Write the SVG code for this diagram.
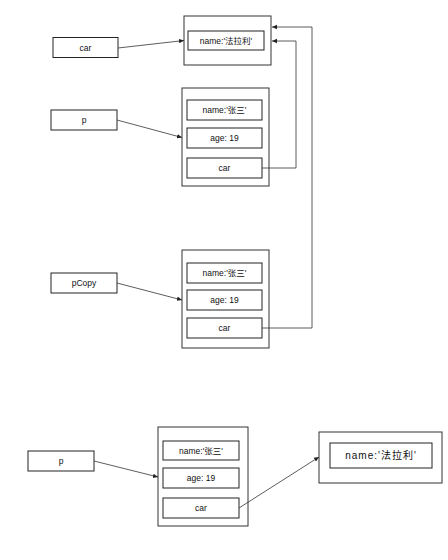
<svg xmlns="http://www.w3.org/2000/svg" width="448" height="560" viewBox="0 0 448 560">
<style>
.b{fill:#fff;stroke:#222;stroke-width:1}
.o{fill:#fff;stroke:#333;stroke-width:1}
.t{font-family:"Liberation Sans","Noto Sans CJK SC",sans-serif;font-size:8.5px;fill:#111;text-anchor:middle;dominant-baseline:central}
.c{fill:none;stroke:#333;stroke-width:0.8}
</style>
<defs>
<marker id="a" markerWidth="6" markerHeight="6" refX="5" refY="3" orient="auto" markerUnits="userSpaceOnUse">
<path d="M0,0.8 L5,3 L0,5.2 Z" fill="#222"/>
</marker>
</defs>
<rect width="448" height="560" fill="#fff"/>
<g id="car-ref"><rect class="b" x="53" y="37.5" width="65" height="20"/><text class="t" x="85.5" y="47.5">car</text></g>
<g id="car-obj"><rect class="o" x="184" y="16" width="87" height="49"/><rect class="b" x="188" y="31" width="76" height="19"/><text class="t" x="226" y="40.5">name:'法拉利'</text></g>
<g id="p-ref"><rect class="b" x="51" y="110" width="66" height="20"/><text class="t" x="84" y="120">p</text></g>
<g id="p-obj"><rect class="o" x="182" y="88" width="87" height="98"/>
<rect class="b" x="187" y="100" width="75" height="20"/><text class="t" x="224.5" y="110">name:'张三'</text>
<rect class="b" x="187" y="128" width="75" height="20"/><text class="t" x="224.5" y="138">age: 19</text>
<rect class="b" x="187" y="158" width="75" height="20"/><text class="t" x="224.5" y="168">car</text></g>
<g id="pCopy-ref"><rect class="b" x="51" y="273" width="66" height="20"/><text class="t" x="84" y="283">pCopy</text></g>
<g id="pCopy-obj"><rect class="o" x="182" y="250" width="87" height="98"/>
<rect class="b" x="187" y="263" width="75" height="20"/><text class="t" x="224.5" y="273">name:'张三'</text>
<rect class="b" x="187" y="290" width="75" height="20"/><text class="t" x="224.5" y="300">age: 19</text>
<rect class="b" x="187" y="318" width="75" height="20"/><text class="t" x="224.5" y="328">car</text></g>
<g id="p2-ref"><rect class="b" x="28" y="451" width="66" height="20"/><text class="t" x="61" y="461">p</text></g>
<g id="p2-obj"><rect class="o" x="158" y="427" width="90" height="99"/>
<rect class="b" x="163" y="441" width="76" height="19"/><text class="t" x="201" y="450.5">name:'张三'</text>
<rect class="b" x="163" y="468" width="76" height="20"/><text class="t" x="201" y="478">age: 19</text>
<rect class="b" x="163" y="498" width="76" height="20"/><text class="t" x="201" y="508">car</text></g>
<g id="car2-obj"><rect class="o" x="319" y="432" width="123" height="51"/><rect class="b" x="330" y="443" width="102" height="25"/><text class="t" x="381" y="455.5" style="font-size:10px;letter-spacing:1px">name:'法拉利'</text></g>
<g id="connectors">
<line class="c" x1="118" y1="48" x2="184" y2="40.5" marker-end="url(#a)"/>
<line class="c" x1="117" y1="120" x2="182" y2="137.5" marker-end="url(#a)"/>
<line class="c" x1="117" y1="283" x2="182" y2="300" marker-end="url(#a)"/>
<polyline class="c" points="262,168 296,168 296,41 272,41" marker-end="url(#a)"/>
<polyline class="c" points="262,328 312,328 312,27 272,27" marker-end="url(#a)"/>
<line class="c" x1="94" y1="461" x2="158" y2="477" marker-end="url(#a)"/>
<line class="c" x1="239" y1="508" x2="319" y2="457" marker-end="url(#a)"/>
</g>
</svg>
